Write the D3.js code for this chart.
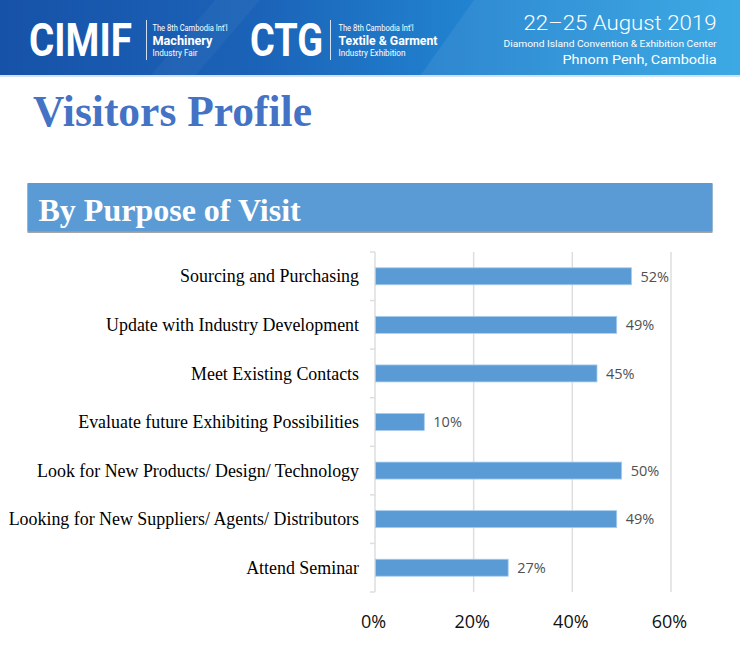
<!DOCTYPE html>
<html>
<head>
<meta charset="utf-8">
<script src="https://cdn.jsdelivr.net/npm/d3@7"></script>
<style>
  html, body { margin: 0; padding: 0; background: #ffffff; }
  svg { display: block; }
</style>
</head>
<body>
<script>
// ---- data ----
const categories = [
  "Sourcing and Purchasing",
  "Update with Industry Development",
  "Meet Existing Contacts",
  "Evaluate future Exhibiting Possibilities",
  "Look for New Products/ Design/ Technology",
  "Looking for New Suppliers/ Agents/ Distributors",
  "Attend Seminar"
];
const values = [0.52, 0.49, 0.45, 0.10, 0.50, 0.49, 0.27];
const xTicks = [0, 0.2, 0.4, 0.6];
const pageTitle = "Visitors Profile";
const sectionTitle = "By Purpose of Visit";

const W = 740, H = 668;
const svg = d3.select("body").append("svg").attr("width", W).attr("height", H);
const defs = svg.append("defs");

// ---- header banner ----
const grad = defs.append("linearGradient").attr("id", "hdr").attr("x1", "0").attr("x2", "1").attr("y1", "0").attr("y2", "0");
grad.append("stop").attr("offset", "0").attr("stop-color", "#1652a8");
grad.append("stop").attr("offset", "0.35").attr("stop-color", "#1b63b8");
grad.append("stop").attr("offset", "0.62").attr("stop-color", "#2182cf");
grad.append("stop").attr("offset", "1").attr("stop-color", "#2ea3e2");
svg.append("rect").attr("x", 0).attr("y", 0).attr("width", W).attr("height", 76).attr("fill", "url(#hdr)");
svg.append("polygon").attr("points", "150,76 215,0 260,0 195,76").attr("fill", "#ffffff").attr("opacity", 0.04);
svg.append("polygon").attr("points", "420,76 474,0 740,0 740,76").attr("fill", "#ffffff").attr("opacity", 0.07);
svg.append("rect").attr("x", 0).attr("y", 75).attr("width", W).attr("height", 2).attr("fill", "#cfe3f5");

const hdr = svg.append("g").attr("fill", "#ffffff").attr("font-family", "Roboto, 'Liberation Sans', sans-serif");
hdr.append("text").attr("x", 29).attr("y", 55.5).attr("font-size", 47).attr("font-weight", 700)
  .attr("textLength", 103).attr("lengthAdjust", "spacingAndGlyphs").text("CIMIF");
hdr.append("line").attr("x1", 146.5).attr("x2", 146.5).attr("y1", 20).attr("y2", 60).attr("stroke", "#ffffff").attr("stroke-width", 1).attr("opacity", 0.8);
hdr.append("text").attr("x", 152.5).attr("y", 31).attr("font-size", 8.5).attr("textLength", 75).attr("lengthAdjust", "spacingAndGlyphs").text("The 8th Cambodia Int'l");
hdr.append("text").attr("x", 152.5).attr("y", 45).attr("font-size", 13).attr("font-weight", 700).attr("textLength", 60).attr("lengthAdjust", "spacingAndGlyphs").text("Machinery");
hdr.append("text").attr("x", 152.5).attr("y", 56).attr("font-size", 8.5).attr("textLength", 45).attr("lengthAdjust", "spacingAndGlyphs").text("Industry Fair");

hdr.append("text").attr("x", 250).attr("y", 55.5).attr("font-size", 47).attr("font-weight", 700)
  .attr("textLength", 73).attr("lengthAdjust", "spacingAndGlyphs").text("CTG");
hdr.append("line").attr("x1", 330.5).attr("x2", 330.5).attr("y1", 20).attr("y2", 60).attr("stroke", "#ffffff").attr("stroke-width", 1).attr("opacity", 0.8);
hdr.append("text").attr("x", 338.5).attr("y", 31).attr("font-size", 8.5).attr("textLength", 75).attr("lengthAdjust", "spacingAndGlyphs").text("The 8th Cambodia Int'l");
hdr.append("text").attr("x", 338.5).attr("y", 45).attr("font-size", 13).attr("font-weight", 700).attr("textLength", 99).attr("lengthAdjust", "spacingAndGlyphs").text("Textile & Garment");
hdr.append("text").attr("x", 338.5).attr("y", 56).attr("font-size", 8.5).attr("textLength", 67).attr("lengthAdjust", "spacingAndGlyphs").text("Industry Exhibition");

hdr.append("text").attr("x", 716.5).attr("y", 29.5).attr("text-anchor", "end").attr("font-size", 20).attr("font-weight", 300)
  .attr("textLength", 193).attr("lengthAdjust", "spacingAndGlyphs").text("22–25 August 2019");
hdr.append("text").attr("x", 716.5).attr("y", 47).attr("text-anchor", "end").attr("font-size", 9.5)
  .attr("textLength", 213).attr("lengthAdjust", "spacingAndGlyphs").text("Diamond Island Convention & Exhibition Center");
hdr.append("text").attr("x", 716.5).attr("y", 63.5).attr("text-anchor", "end").attr("font-size", 13.5)
  .attr("textLength", 154).attr("lengthAdjust", "spacingAndGlyphs").text("Phnom Penh, Cambodia");

// ---- page title ----
svg.append("text").attr("x", 33).attr("y", 125.5)
  .attr("font-family", "'Liberation Serif', 'Times New Roman', serif").attr("font-weight", 700)
  .attr("font-size", 45).attr("fill", "#4472c4")
  .attr("textLength", 279).attr("lengthAdjust", "spacingAndGlyphs").text(pageTitle);

// ---- section banner ----
svg.append("rect").attr("x", 27.5).attr("y", 184).attr("width", 685).attr("height", 49).attr("fill", "#a6a6a6");
svg.append("rect").attr("x", 27.5).attr("y", 183).attr("width", 685).attr("height", 48.5).attr("fill", "#5b9bd5");
svg.append("text").attr("x", 38.5).attr("y", 220.5)
  .attr("font-family", "'Liberation Serif', 'Times New Roman', serif").attr("font-weight", 700)
  .attr("font-size", 32).attr("fill", "#ffffff").text(sectionTitle);

// ---- chart ----
const x = d3.scaleLinear().domain([0, 0.6]).range([375, 671]);
const y = d3.scaleBand().domain(categories).range([252, 592]).paddingInner(0.65).paddingOuter(0.325);

// gridlines
svg.append("g").selectAll("line").data(xTicks.filter(d => d > 0)).join("line")
  .attr("x1", d => x(d)).attr("x2", d => x(d)).attr("y1", 252).attr("y2", 592)
  .attr("stroke", "#dedede").attr("stroke-width", 1.5);

// y axis line and tick marks at band boundaries
const gap = (y.step() - y.bandwidth()) / 2;
const bounds = categories.map(c => y(c) - gap).concat([y(categories[categories.length - 1]) - gap + y.step()]);
svg.append("line").attr("x1", x(0)).attr("x2", x(0)).attr("y1", 252).attr("y2", 592)
  .attr("stroke", "#dedede").attr("stroke-width", 1.5);
svg.append("g").selectAll("line").data(bounds).join("line")
  .attr("x1", x(0) - 5).attr("x2", x(0)).attr("y1", d => d).attr("y2", d => d)
  .attr("stroke", "#dedede").attr("stroke-width", 1.5);

// bars
svg.append("g").selectAll("rect").data(categories).join("rect")
  .attr("x", x(0) + 0.5).attr("y", c => y(c))
  .attr("width", (c, i) => x(values[i]) - x(0) - 0.5).attr("height", y.bandwidth())
  .attr("fill", "#5b9bd5").attr("stroke", "#a9cdef").attr("stroke-width", 0.8);

// value labels
svg.append("g").selectAll("text").data(categories).join("text")
  .attr("x", (c, i) => x(values[i]) + 9).attr("y", c => y(c) + y.bandwidth() / 2).attr("dy", "0.36em")
  .attr("font-family", "'Open Sans', sans-serif").attr("font-size", 14.5).attr("fill", "#505050")
  .text((c, i) => d3.format(".0%")(values[i]));

// category labels
svg.append("g").selectAll("text").data(categories).join("text")
  .attr("x", 359).attr("y", c => y(c) + y.bandwidth() / 2).attr("dy", "0.34em")
  .attr("text-anchor", "end")
  .attr("font-family", "'Liberation Serif', 'Times New Roman', serif").attr("font-size", 17.9).attr("fill", "#000000")
  .text(c => c);

// x tick labels
svg.append("g").selectAll("text").data(xTicks).join("text")
  .attr("x", d => x(d) - 1.5).attr("y", 627.5).attr("text-anchor", "middle")
  .attr("font-family", "'Open Sans', sans-serif").attr("font-size", 18).attr("fill", "#111111")
  .text(d => d3.format(".0%")(d));
</script>
</body>
</html>
